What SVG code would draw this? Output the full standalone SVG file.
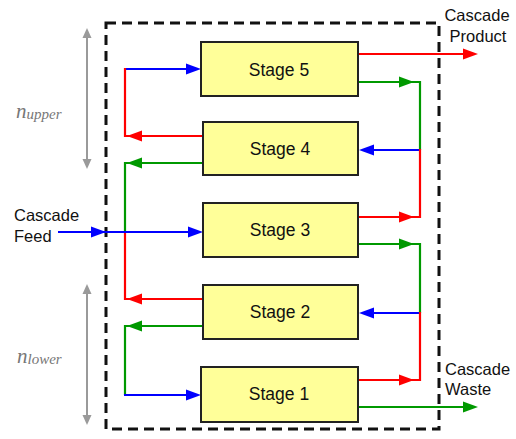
<svg xmlns="http://www.w3.org/2000/svg" xmlns:xlink="http://www.w3.org/1999/xlink" width="516" height="439" viewBox="0 0 516 439">
<defs>
<style>
.stage rect{fill:#ffff99;stroke:#222;stroke-width:2}
.stage text{font-family:"Liberation Sans",Arial,sans-serif;font-size:17.5px;fill:#111;text-anchor:middle}
.lbl{font-family:"Liberation Sans",Arial,sans-serif;font-size:16.5px;fill:#111}
.math{font-family:"Liberation Serif","DejaVu Serif",serif;font-style:italic;fill:#777}
.ln{fill:none;stroke-width:2.2;stroke-linejoin:miter;stroke-linecap:butt}
.r{stroke:#ff0000}.g{stroke:#009900}.b{stroke:#0000ff}
.rf{fill:#ff0000}.gf{fill:#009900}.bf{fill:#0000ff}
</style>
<path id="ah" d="M0,0 L-15,-5.5 L-15,5.5 Z"/>
<path id="gh" d="M0,0 L-10,-4.5 L-10,4.5 Z"/>
</defs>
<rect x="106" y="23" width="333" height="406" fill="none" stroke="#111" stroke-width="3" stroke-dasharray="10,6"/>
<g id="dims">
<line x1="87" y1="33" x2="87" y2="164" stroke="#9a9a9a" stroke-width="2"/>
<use xlink:href="#gh" fill="#9a9a9a" transform="translate(87,28) rotate(-90)"/>
<use xlink:href="#gh" fill="#9a9a9a" transform="translate(87,169) rotate(90)"/>
<line x1="87" y1="289" x2="87" y2="420" stroke="#9a9a9a" stroke-width="2"/>
<use xlink:href="#gh" fill="#9a9a9a" transform="translate(87,284) rotate(-90)"/>
<use xlink:href="#gh" fill="#9a9a9a" transform="translate(87,425) rotate(90)"/>
<text class="math" x="16" y="118" font-size="21">n<tspan font-size="15" dy="1">upper</tspan></text>
<text class="math" x="17" y="363" font-size="21">n<tspan font-size="15" dy="1">lower</tspan></text>
</g>
<g id="connectors">
<path class="ln r" d="M358,54 H465"/>
<use xlink:href="#ah" class="rf" transform="translate(478,54)"/>
<path class="ln g" d="M358,82 H420 V150"/>
<use xlink:href="#ah" class="gf" transform="translate(414,82)"/>
<path class="ln b" d="M420,150 H370"/>
<use xlink:href="#ah" class="bf" transform="translate(359,150) rotate(180)"/>
<path class="ln r" d="M420,149 V217 H358"/>
<use xlink:href="#ah" class="rf" transform="translate(414,217)"/>
<path class="ln g" d="M358,244 H420 V313"/>
<use xlink:href="#ah" class="gf" transform="translate(414,244)"/>
<path class="ln b" d="M420,313 H370"/>
<use xlink:href="#ah" class="bf" transform="translate(359,313) rotate(180)"/>
<path class="ln r" d="M420,312 V380 H358"/>
<use xlink:href="#ah" class="rf" transform="translate(414,380)"/>
<path class="ln g" d="M358,407 H465"/>
<use xlink:href="#ah" class="gf" transform="translate(478,407)"/>
<path class="ln b" d="M125,69 H190"/>
<use xlink:href="#ah" class="bf" transform="translate(201,69)"/>
<path class="ln r" d="M203,136 H125 V68"/>
<use xlink:href="#ah" class="rf" transform="translate(127,136) rotate(180)"/>
<path class="ln g" d="M203,163 H125 V232"/>
<use xlink:href="#ah" class="gf" transform="translate(127,163) rotate(180)"/>
<path class="ln r" d="M125,232 V299 H203"/>
<use xlink:href="#ah" class="rf" transform="translate(127,299) rotate(180)"/>
<path class="ln g" d="M203,326 H125 V395"/>
<use xlink:href="#ah" class="gf" transform="translate(127,326) rotate(180)"/>
<path class="ln b" d="M124,395 H190"/>
<use xlink:href="#ah" class="bf" transform="translate(201,395)"/>
<path class="ln b" d="M58,232 H192"/>
<use xlink:href="#ah" class="bf" transform="translate(106,232)"/>
<use xlink:href="#ah" class="bf" transform="translate(203,232)"/>
</g>
<g id="stage5" class="stage"><rect x="201" y="42" width="157" height="54"/><text x="279" y="76">Stage 5</text></g>
<g id="stage4" class="stage"><rect x="203" y="122" width="155" height="53"/><text x="280" y="155">Stage 4</text></g>
<g id="stage3" class="stage"><rect x="203" y="203" width="155" height="54"/><text x="280" y="236">Stage 3</text></g>
<g id="stage2" class="stage"><rect x="203" y="285" width="155" height="54"/><text x="280" y="318">Stage 2</text></g>
<g id="stage1" class="stage"><rect x="201" y="367" width="157" height="55"/><text x="279" y="400">Stage 1</text></g>
<g id="feed"><text class="lbl" x="14" y="221">Cascade</text><text class="lbl" x="14" y="242">Feed</text></g>
<g id="product"><text class="lbl" x="477" y="21" text-anchor="middle">Cascade</text><text class="lbl" x="478" y="42" text-anchor="middle">Product</text></g>
<g id="waste"><text class="lbl" x="445" y="375">Cascade</text><text class="lbl" x="445" y="395">Waste</text></g>
</svg>
